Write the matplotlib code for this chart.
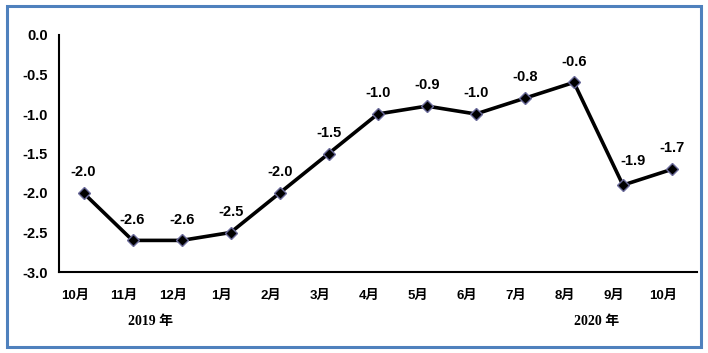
import numpy as np
import matplotlib.pyplot as plt
from matplotlib.patches import Rectangle

plt.rcParams['font.family'] = ['Liberation Sans', 'Noto Sans CJK SC']

months = ['10月', '11月', '12月', '1月', '2月', '3月', '4月', '5月', '6月', '7月', '8月', '9月', '10月']
values = [-2.0, -2.6, -2.6, -2.5, -2.0, -1.5, -1.0, -0.9, -1.0, -0.8, -0.6, -1.9, -1.7]
yticks = [0.0, -0.5, -1.0, -1.5, -2.0, -2.5, -3.0]

fig = plt.figure(figsize=(7.08, 3.53), dpi=100)
fig.patches.append(Rectangle((7 / 708, 6 / 353), 694 / 708, 341 / 353, transform=fig.transFigure,
                             fill=False, edgecolor='#4f81bd', lw=2.2))
ax = fig.add_axes([59 / 708, 1 - 272 / 353, 637.5 / 708, 237 / 353])

x = np.arange(len(values))
ax.plot(x, values, color='black', lw=2.6, marker='D', markersize=6.5,
        markerfacecolor='black', markeredgecolor='#6a6a9a', markeredgewidth=1, zorder=3)

for i, v in enumerate(values):
    if i == 11:
        ax.annotate(f'{v:.1f}', (i, v), xytext=(7, 12), textcoords='offset points',
                    ha='center', va='bottom', fontsize=10.5, fontweight='bold')
    else:
        ax.annotate(f'{v:.1f}', (i, v), xytext=(0, 10), textcoords='offset points',
                    ha='center', va='bottom', fontsize=10.5, fontweight='bold')

ax.set_xlim(-0.5, len(values) - 0.5)
ax.set_ylim(-3.0, 0.0)
ax.set_yticks(yticks)
ax.set_yticklabels([f'{t:.1f}' for t in yticks], fontsize=10.5, fontweight='bold')
# month labels sit a little left of their points
ax.set_xticks(x - 0.18)
ax.set_xticklabels(months, fontsize=9.5, fontweight='bold')
ax.tick_params(length=0, pad=13)
ax.tick_params(axis='y', pad=8)
for s in ['top', 'right']:
    ax.spines[s].set_visible(False)
for s in ['left', 'bottom']:
    ax.spines[s].set_linewidth(1.5)

fig.text(150 / 708, 1 - 322 / 353, '2019 年', ha='center', va='center', fontsize=10,
         fontweight='bold', family=['Liberation Serif', 'Noto Sans CJK SC'])
fig.text(597 / 708, 1 - 322 / 353, '2020 年', ha='center', va='center', fontsize=10,
         fontweight='bold', family=['Liberation Serif', 'Noto Sans CJK SC'])

fig.savefig('out.png', dpi=100)
